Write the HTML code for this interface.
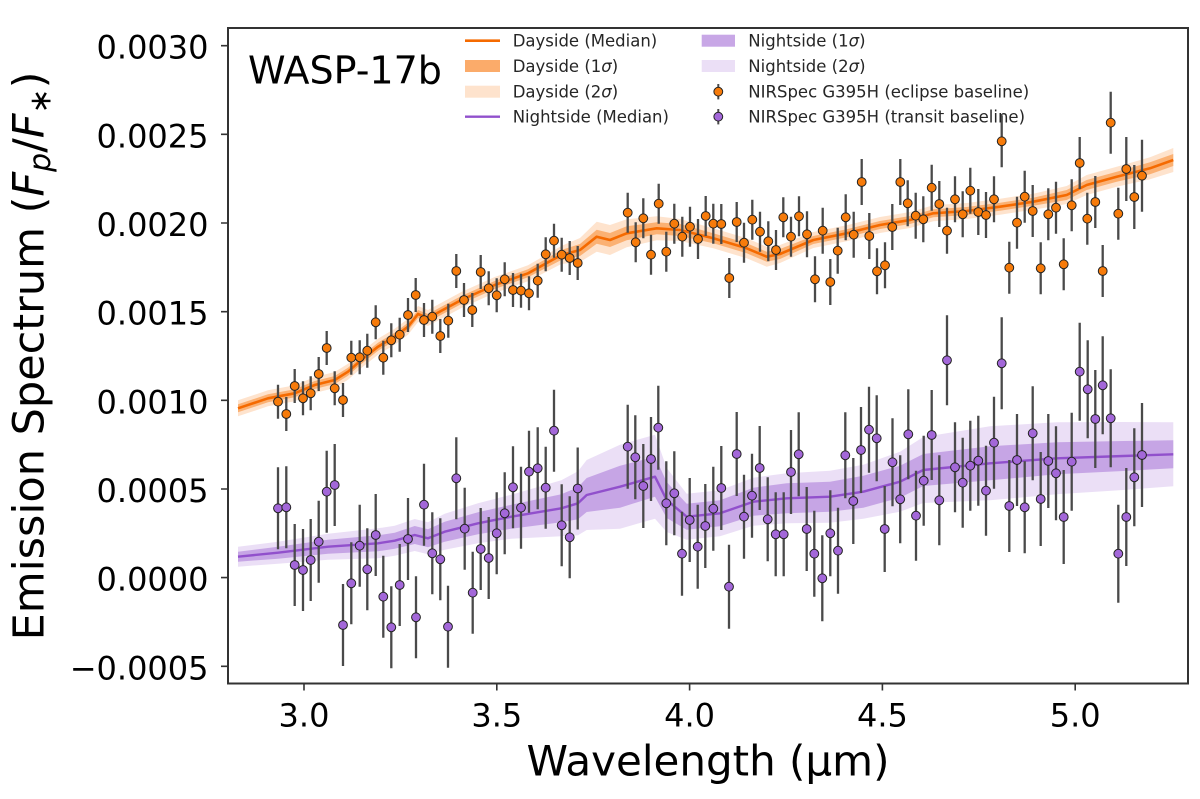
<!DOCTYPE html>
<html><head><meta charset="utf-8"><style>
html,body{margin:0;padding:0;background:#fff;overflow:hidden}
svg{display:block}
</style></head><body>
<svg width="1200" height="799" viewBox="0 0 1200 799" xmlns="http://www.w3.org/2000/svg" font-family="'DejaVu Sans','Liberation Sans',sans-serif">
<rect width="1200" height="799" fill="#fff"/>
<defs><clipPath id="ax"><rect x="228" y="28" width="960" height="656"/></clipPath></defs>
<g clip-path="url(#ax)">
<!-- dayside bands -->
<polygon fill="#f97306" fill-opacity="0.2" points="238,400.3 268,390.3 294.7,385.3 314.7,377 334.7,372 348,363.7 361.3,352 378,338.7 394.7,328.7 408,318.7 418,306 428,310 461.3,292 494.7,277 528,265.3 561.3,246 580,238 596.7,221.7 610,225 626.7,219.3 656.7,216.3 680,219 713.3,228.3 746.7,238.3 766.7,246.7 780,245 813.3,232 846.7,225.3 880,217 910,212 933.3,205.3 966.7,203 1000,198.7 1033.3,193.7 1066.7,186 1086.7,175 1116.7,166.7 1150,157.3 1173.3,148 1173.3,172 1150,179.3 1116.7,186.7 1086.7,195 1066.7,204 1033.3,209.7 1000,214.7 966.7,219 933.3,221.3 910,228 880,233 846.7,241.3 813.3,248 780,263 766.7,266.7 746.7,258.3 713.3,248.3 680,241 656.7,240.3 626.7,247.3 610,255 596.7,251.7 580,262 561.3,264 528,281.3 494.7,293 461.3,308 428,326 418,322 408,334.7 394.7,344.7 378,354.7 361.3,368 348,379.7 334.7,388 314.7,393 294.7,401.3 268,406.3 238,416.3"/>
<polygon fill="#f97306" fill-opacity="0.45" points="238,404.3 268,394.3 294.7,389.3 314.7,381 334.7,376 348,367.7 361.3,356 378,342.7 394.7,332.7 408,322.7 418,310 428,314 461.3,296 494.7,281 528,269.3 561.3,250 580,244 596.7,229.7 610,233 626.7,226.3 656.7,222.3 680,224 713.3,233.3 746.7,243.3 766.7,251.7 780,249 813.3,236 846.7,229.3 880,221 910,216 933.3,209.3 966.7,207 1000,202.7 1033.3,197.7 1066.7,190 1086.7,180 1116.7,171.7 1150,162.3 1173.3,154 1173.3,166 1150,174.3 1116.7,181.7 1086.7,190 1066.7,200 1033.3,205.7 1000,210.7 966.7,215 933.3,217.3 910,224 880,229 846.7,237.3 813.3,244 780,259 766.7,261.7 746.7,253.3 713.3,243.3 680,236 656.7,234.3 626.7,240.3 610,247 596.7,243.7 580,256 561.3,260 528,277.3 494.7,289 461.3,304 428,322 418,318 408,330.7 394.7,340.7 378,350.7 361.3,364 348,375.7 334.7,384 314.7,389 294.7,397.3 268,402.3 238,412.3"/>
<polyline fill="none" stroke="#f56a00" stroke-width="2.6" stroke-linejoin="round" points="238,408.3 268,398.3 294.7,393.3 314.7,385 334.7,380 348,371.7 361.3,360 378,346.7 394.7,336.7 408,326.7 418,314 428,318 461.3,300 494.7,285 528,273.3 561.3,255 580,250 596.7,236.7 610,240 626.7,233.3 656.7,228.3 680,230 713.3,238.3 746.7,248.3 766.7,256.7 780,254 813.3,240 846.7,233.3 880,225 910,220 933.3,213.3 966.7,211 1000,206.7 1033.3,201.7 1066.7,195 1086.7,185 1116.7,176.7 1150,168.3 1173.3,160"/>
<!-- nightside bands -->
<polygon fill="#9a5fd1" fill-opacity="0.2" points="238,546.7 278,541.7 328,533.7 378,528.3 394.7,525.7 414.7,519 428,522.3 444.7,513.7 478,503.3 511.3,494.7 561.3,480.3 578,471.3 586.7,460 620,444.7 655,434.7 666.7,468 686.7,493.7 720,490.3 753.3,477.7 786.7,473.3 830,470.7 863.3,464.7 900,451.7 923.3,437 990,426.3 1056.7,422.3 1123.3,422 1173.3,422.3 1173.3,486.3 1123.3,490 1056.7,494.3 990,500.3 923.3,503 900,511.7 863.3,518.7 830,522.7 786.7,523.3 753.3,525.7 720,536.3 686.7,539.7 666.7,532 655,518.7 620,528.7 586.7,530 578,535.3 561.3,536.3 511.3,538.7 478,543.3 444.7,549.7 428,554.3 414.7,551 394.7,555.7 378,558.3 328,559.7 278,563.7 238,566.7"/>
<polygon fill="#9a5fd1" fill-opacity="0.45" points="238,551.7 278,546.7 328,539.7 378,535.3 394.7,532.7 414.7,526 428,529.3 444.7,521.7 478,512.3 511.3,504.7 561.3,494.3 578,487.3 586.7,478 620,465.7 655,456.7 666.7,482 686.7,503.7 720,500.3 753.3,487.7 786.7,483.3 830,481.7 863.3,475.7 900,465.7 923.3,454 990,446.3 1056.7,442.3 1123.3,441 1173.3,440.3 1173.3,468.3 1123.3,471 1056.7,474.3 990,480.3 923.3,486 900,497.7 863.3,507.7 830,511.7 786.7,513.3 753.3,515.7 720,526.3 686.7,529.7 666.7,518 655,496.7 620,507.7 586.7,512 578,519.3 561.3,522.3 511.3,528.7 478,534.3 444.7,541.7 428,547.3 414.7,544 394.7,548.7 378,551.3 328,553.7 278,558.7 238,561.7"/>
<polyline fill="none" stroke="#9150cc" stroke-width="2.4" stroke-linejoin="round" points="238,556.7 278,552.7 328,546.7 378,543.3 394.7,540.7 414.7,535 428,538.3 444.7,531.7 478,523.3 511.3,516.7 561.3,508.3 578,503.3 586.7,495 620,486.7 655,476.7 666.7,500 686.7,516.7 720,513.3 753.3,501.7 786.7,498.3 830,496.7 863.3,491.7 900,481.7 923.3,470 990,463.3 1056.7,458.3 1123.3,456 1173.3,454.3"/>

<!-- nightside error bars -->
<path fill="none" stroke="#4a4a4a" stroke-width="2.3" d="M278 467.3V549.3M286.3 466.3V548.3M294.7 524V606M303 529V611M310.7 519V601M318.7 500.7V582.7M326.7 450.7V532.7M334.7 444V526M343 584V666M351.3 542.3V624.3M359.7 504.7V586.7M367.3 528.3V610.3M375.7 494V576M383.3 555.7V637.7M391.3 586.3V668.3M399.7 544V626M408 498V580M416 576.3V658.3M424 463.7V545.7M432.3 512.3V594.3M440.3 518.3V600.3M448 585.7V667.7M456.3 437.3V519.3M464.7 487.7V569.7M472.7 551.7V633.7M480.7 508V590M488.7 517V599M496.7 492.3V574.3M504.7 472.3V554.3M513 446.3V528.3M521 466.7V548.7M529 430.7V512.7M537.7 427.3V509.3M545.7 446.7V528.7M554 389.7V471.7M561.7 484.3V566.3M569.7 496.3V578.3M577.7 447.5V529.5M627.7 404.7V488.7M635.3 415.3V499.3M643.3 444V528M651 417V501M658.3 385.7V469.7M666.3 461.3V545.3M674.3 451.3V535.3M682 511.7V595.7M689.7 478V562M697.7 504.7V588.7M705.3 484V568M713.3 466.7V550.7M721.3 446V530M729 544.7V628.7M736.7 412V496M744 474.7V558.7M752 453.7V537.7M759.7 426V510M767.7 477.3V561.3M775.7 492.3V576.3M783.7 492.3V576.3M791 430V514M798.7 412.3V496.3M806.7 487V571M814.3 510.7V596.7M822.3 535.3V621.3M830.3 490.3V576.3M838 507.7V593.7M845.3 412.3V498.3M853.3 458V544M861 407V493M869 386.7V472.7M876.7 395.3V481.3M884.7 486V572M892.5 418.3V506.3M900.2 455.3V543.3M908.3 389.3V479.3M916 470.7V560.7M923.7 435.7V525.7M931.7 390V480M939.3 455.3V545.3M947 315.3V405.3M955 422.3V512.3M962.7 437.7V527.7M970.3 420.7V510.7M978.3 415.7V505.7M986 445.7V535.7M994 396.7V488.7M1001.7 317.3V409.3M1009.3 460V552M1017 414V506M1024.7 461.3V553.3M1032.7 386.3V480.3M1040.7 452V546M1048.3 414V508M1056 426.3V520.3M1063.7 470V564M1071.7 412.7V510.7M1079.7 322.7V420.7M1087.7 340.3V438.3M1095.3 370V468M1102.7 336.3V434.3M1110.7 369.3V467.3M1118.3 504.7V602.7M1126.3 468V566M1134.3 428.3V526.3M1142 403V507"/>
<!-- dayside error bars -->
<path fill="none" stroke="#4a4a4a" stroke-width="2.3" d="M278 384.7V418.7M286.3 397V431M294.7 369V403M303 381.3V415.3M310.7 376.3V410.3M318.7 357V391M326.7 331V365M334.7 371.3V405.3M343 383V417M351.3 340.7V374.7M359.7 340.3V374.3M367.3 333.7V367.7M375.7 305.3V339.3M383.3 340.7V374.7M391.3 323.3V357.3M399.7 317.7V351.7M408 298V332M415.7 278V312M424 303V337M432.3 299.7V333.7M440.3 319V353M448.3 303.7V337.7M456.3 254V288M464 283V317M472.3 293V327M480.7 255V289M488.7 271.3V305.3M496.7 278.3V312.3M504.7 262.3V296.3M513 273V307M521 273.7V307.7M529 276.3V310.3M537.7 263.7V297.7M545.7 237.3V271.3M554 223.7V257.7M561.7 237.7V271.7M569.7 241V275M577.7 246V280M627.7 192.7V232.7M635.7 222.3V262.3M643.3 198.3V238.3M651 234.7V274.7M658.7 183.7V223.7M666.3 231.7V271.7M674.3 203.7V243.7M682.3 216.7V256.7M690 206.7V246.7M698 219V259M705.7 196V236M713.3 203.7V243.7M721.3 204V244M729.3 258V298M736.7 202V242M744 222.7V262.7M752.3 199.7V239.7M760 211.7V251.7M768.3 221.3V261.3M776 230V270M783.3 197.3V237.3M791 216.7V256.7M799 196.3V236.3M807 211.3V257.3M815 256.3V302.3M822.7 207.7V253.7M830.3 259V305M837.7 227.7V273.7M845.7 194.3V240.3M853.7 211.7V257.7M861.7 159V205M869.3 213V259M877 248.3V294.3M885 242.3V288.3M892.3 204V250M900.3 159V205M907.7 180.3V226.3M915.7 192.7V238.7M923.3 196.3V242.3M931.7 164.7V210.7M939.3 181V227M947 207.7V253.7M955 176.3V222.3M962.7 191.3V237.3M970.3 167.7V213.7M978.3 189V235M986 192V238M994 176.3V222.3M1001.7 115.3V167.3M1009.3 241.7V293.7M1017 196.7V248.7M1024.7 170.7V222.7M1032.7 185V237M1040.7 242.3V294.3M1048.3 188.3V240.3M1056 181.7V233.7M1063.7 238.3V290.3M1071.7 179.3V231.3M1079.7 137V189M1087.3 192.7V244.7M1095.3 176V228M1102.7 245V297M1110.7 91.7V153.7M1118.3 187.7V239.7M1126.3 137V201M1134.3 165V229M1142 139.7V211.7"/>

<!-- nightside markers -->
<g fill="#a367d9" stroke="#222" stroke-width="1">
<circle cx="278" cy="508.3" r="4.4"/><circle cx="286.3" cy="507.3" r="4.4"/><circle cx="294.7" cy="565" r="4.4"/><circle cx="303" cy="570" r="4.4"/><circle cx="310.7" cy="560" r="4.4"/><circle cx="318.7" cy="541.7" r="4.4"/><circle cx="326.7" cy="491.7" r="4.4"/><circle cx="334.7" cy="485" r="4.4"/><circle cx="343" cy="625" r="4.4"/><circle cx="351.3" cy="583.3" r="4.4"/><circle cx="359.7" cy="545.7" r="4.4"/><circle cx="367.3" cy="569.3" r="4.4"/><circle cx="375.7" cy="535" r="4.4"/><circle cx="383.3" cy="596.7" r="4.4"/><circle cx="391.3" cy="627.3" r="4.4"/><circle cx="399.7" cy="585" r="4.4"/><circle cx="408" cy="539" r="4.4"/><circle cx="416" cy="617.3" r="4.4"/><circle cx="424" cy="504.7" r="4.4"/><circle cx="432.3" cy="553.3" r="4.4"/><circle cx="440.3" cy="559.3" r="4.4"/><circle cx="448" cy="626.7" r="4.4"/><circle cx="456.3" cy="478.3" r="4.4"/><circle cx="464.7" cy="528.7" r="4.4"/><circle cx="472.7" cy="592.7" r="4.4"/><circle cx="480.7" cy="549" r="4.4"/><circle cx="488.7" cy="558" r="4.4"/><circle cx="496.7" cy="533.3" r="4.4"/><circle cx="504.7" cy="513.3" r="4.4"/><circle cx="513" cy="487.3" r="4.4"/><circle cx="521" cy="507.7" r="4.4"/><circle cx="529" cy="471.7" r="4.4"/><circle cx="537.7" cy="468.3" r="4.4"/><circle cx="545.7" cy="487.7" r="4.4"/><circle cx="554" cy="430.7" r="4.4"/><circle cx="561.7" cy="525.3" r="4.4"/><circle cx="569.7" cy="537.3" r="4.4"/><circle cx="577.7" cy="488.5" r="4.4"/>
<circle cx="627.7" cy="446.7" r="4.4"/><circle cx="635.3" cy="457.3" r="4.4"/><circle cx="643.3" cy="486" r="4.4"/><circle cx="651" cy="459" r="4.4"/><circle cx="658.3" cy="427.7" r="4.4"/><circle cx="666.3" cy="503.3" r="4.4"/><circle cx="674.3" cy="493.3" r="4.4"/><circle cx="682" cy="553.7" r="4.4"/><circle cx="689.7" cy="520" r="4.4"/><circle cx="697.7" cy="546.7" r="4.4"/><circle cx="705.3" cy="526" r="4.4"/><circle cx="713.3" cy="508.7" r="4.4"/><circle cx="721.3" cy="488" r="4.4"/><circle cx="729" cy="586.7" r="4.4"/><circle cx="736.7" cy="454" r="4.4"/><circle cx="744" cy="516.7" r="4.4"/><circle cx="752" cy="495.7" r="4.4"/><circle cx="759.7" cy="468" r="4.4"/><circle cx="767.7" cy="519.3" r="4.4"/><circle cx="775.7" cy="534.3" r="4.4"/><circle cx="783.7" cy="534.3" r="4.4"/><circle cx="791" cy="472" r="4.4"/><circle cx="798.7" cy="454.3" r="4.4"/><circle cx="806.7" cy="529" r="4.4"/><circle cx="814.3" cy="553.7" r="4.4"/><circle cx="822.3" cy="578.3" r="4.4"/><circle cx="830.3" cy="533.3" r="4.4"/><circle cx="838" cy="550.7" r="4.4"/><circle cx="845.3" cy="455.3" r="4.4"/><circle cx="853.3" cy="501" r="4.4"/><circle cx="861" cy="450" r="4.4"/><circle cx="869" cy="429.7" r="4.4"/><circle cx="876.7" cy="438.3" r="4.4"/><circle cx="884.7" cy="529" r="4.4"/><circle cx="892.5" cy="462.3" r="4.4"/><circle cx="900.2" cy="499.3" r="4.4"/>
<circle cx="908.3" cy="434.3" r="4.4"/><circle cx="916" cy="515.7" r="4.4"/><circle cx="923.7" cy="480.7" r="4.4"/><circle cx="931.7" cy="435" r="4.4"/><circle cx="939.3" cy="500.3" r="4.4"/><circle cx="947" cy="360.3" r="4.4"/><circle cx="955" cy="467.3" r="4.4"/><circle cx="962.7" cy="482.7" r="4.4"/><circle cx="970.3" cy="465.7" r="4.4"/><circle cx="978.3" cy="460.7" r="4.4"/><circle cx="986" cy="490.7" r="4.4"/><circle cx="994" cy="442.7" r="4.4"/><circle cx="1001.7" cy="363.3" r="4.4"/><circle cx="1009.3" cy="506" r="4.4"/><circle cx="1017" cy="460" r="4.4"/><circle cx="1024.7" cy="507.3" r="4.4"/><circle cx="1032.7" cy="433.3" r="4.4"/><circle cx="1040.7" cy="499" r="4.4"/><circle cx="1048.3" cy="461" r="4.4"/><circle cx="1056" cy="473.3" r="4.4"/><circle cx="1063.7" cy="517" r="4.4"/><circle cx="1071.7" cy="461.7" r="4.4"/><circle cx="1079.7" cy="371.7" r="4.4"/><circle cx="1087.7" cy="389.3" r="4.4"/><circle cx="1095.3" cy="419" r="4.4"/><circle cx="1102.7" cy="385.3" r="4.4"/><circle cx="1110.7" cy="418.3" r="4.4"/><circle cx="1118.3" cy="553.7" r="4.4"/><circle cx="1126.3" cy="517" r="4.4"/><circle cx="1134.3" cy="477.3" r="4.4"/><circle cx="1142" cy="455" r="4.4"/>
</g>
<!-- dayside markers -->
<g fill="#f77b0a" stroke="#222" stroke-width="1">
<circle cx="278" cy="401.7" r="4.4"/><circle cx="286.3" cy="414" r="4.4"/><circle cx="294.7" cy="386" r="4.4"/><circle cx="303" cy="398.3" r="4.4"/><circle cx="310.7" cy="393.3" r="4.4"/><circle cx="318.7" cy="374" r="4.4"/><circle cx="326.7" cy="348" r="4.4"/><circle cx="334.7" cy="388.3" r="4.4"/><circle cx="343" cy="400" r="4.4"/><circle cx="351.3" cy="357.7" r="4.4"/><circle cx="359.7" cy="357.3" r="4.4"/><circle cx="367.3" cy="350.7" r="4.4"/><circle cx="375.7" cy="322.3" r="4.4"/><circle cx="383.3" cy="357.7" r="4.4"/><circle cx="391.3" cy="340.3" r="4.4"/><circle cx="399.7" cy="334.7" r="4.4"/><circle cx="408" cy="315" r="4.4"/><circle cx="415.7" cy="295" r="4.4"/><circle cx="424" cy="320" r="4.4"/><circle cx="432.3" cy="316.7" r="4.4"/><circle cx="440.3" cy="336" r="4.4"/><circle cx="448.3" cy="320.7" r="4.4"/><circle cx="456.3" cy="271" r="4.4"/><circle cx="464" cy="300" r="4.4"/><circle cx="472.3" cy="310" r="4.4"/><circle cx="480.7" cy="272" r="4.4"/><circle cx="488.7" cy="288.3" r="4.4"/><circle cx="496.7" cy="295.3" r="4.4"/><circle cx="504.7" cy="279.3" r="4.4"/><circle cx="513" cy="290" r="4.4"/><circle cx="521" cy="290.7" r="4.4"/><circle cx="529" cy="293.3" r="4.4"/><circle cx="537.7" cy="280.7" r="4.4"/><circle cx="545.7" cy="254.3" r="4.4"/><circle cx="554" cy="240.7" r="4.4"/><circle cx="561.7" cy="254.7" r="4.4"/><circle cx="569.7" cy="258" r="4.4"/><circle cx="577.7" cy="263" r="4.4"/>
<circle cx="627.7" cy="212.7" r="4.4"/><circle cx="635.7" cy="242.3" r="4.4"/><circle cx="643.3" cy="218.3" r="4.4"/><circle cx="651" cy="254.7" r="4.4"/><circle cx="658.7" cy="203.7" r="4.4"/><circle cx="666.3" cy="251.7" r="4.4"/><circle cx="674.3" cy="223.7" r="4.4"/><circle cx="682.3" cy="236.7" r="4.4"/><circle cx="690" cy="226.7" r="4.4"/><circle cx="698" cy="239" r="4.4"/><circle cx="705.7" cy="216" r="4.4"/><circle cx="713.3" cy="223.7" r="4.4"/><circle cx="721.3" cy="224" r="4.4"/><circle cx="729.3" cy="278" r="4.4"/><circle cx="736.7" cy="222" r="4.4"/><circle cx="744" cy="242.7" r="4.4"/><circle cx="752.3" cy="219.7" r="4.4"/><circle cx="760" cy="231.7" r="4.4"/><circle cx="768.3" cy="241.3" r="4.4"/><circle cx="776" cy="250" r="4.4"/><circle cx="783.3" cy="217.3" r="4.4"/><circle cx="791" cy="236.7" r="4.4"/><circle cx="799" cy="216.3" r="4.4"/><circle cx="807" cy="234.3" r="4.4"/><circle cx="815" cy="279.3" r="4.4"/><circle cx="822.7" cy="230.7" r="4.4"/><circle cx="830.3" cy="282" r="4.4"/><circle cx="837.7" cy="250.7" r="4.4"/><circle cx="845.7" cy="217.3" r="4.4"/><circle cx="853.7" cy="234.7" r="4.4"/><circle cx="861.7" cy="182" r="4.4"/><circle cx="869.3" cy="236" r="4.4"/><circle cx="877" cy="271.3" r="4.4"/><circle cx="885" cy="265.3" r="4.4"/><circle cx="892.3" cy="227" r="4.4"/><circle cx="900.3" cy="182" r="4.4"/>
<circle cx="907.7" cy="203.3" r="4.4"/><circle cx="915.7" cy="215.7" r="4.4"/><circle cx="923.3" cy="219.3" r="4.4"/><circle cx="931.7" cy="187.7" r="4.4"/><circle cx="939.3" cy="204" r="4.4"/><circle cx="947" cy="230.7" r="4.4"/><circle cx="955" cy="199.3" r="4.4"/><circle cx="962.7" cy="214.3" r="4.4"/><circle cx="970.3" cy="190.7" r="4.4"/><circle cx="978.3" cy="212" r="4.4"/><circle cx="986" cy="215" r="4.4"/><circle cx="994" cy="199.3" r="4.4"/><circle cx="1001.7" cy="141.3" r="4.4"/><circle cx="1009.3" cy="267.7" r="4.4"/><circle cx="1017" cy="222.7" r="4.4"/><circle cx="1024.7" cy="196.7" r="4.4"/><circle cx="1032.7" cy="211" r="4.4"/><circle cx="1040.7" cy="268.3" r="4.4"/><circle cx="1048.3" cy="214.3" r="4.4"/><circle cx="1056" cy="207.7" r="4.4"/><circle cx="1063.7" cy="264.3" r="4.4"/><circle cx="1071.7" cy="205.3" r="4.4"/><circle cx="1079.7" cy="163" r="4.4"/><circle cx="1087.3" cy="218.7" r="4.4"/><circle cx="1095.3" cy="202" r="4.4"/><circle cx="1102.7" cy="271" r="4.4"/><circle cx="1110.7" cy="122.7" r="4.4"/><circle cx="1118.3" cy="213.7" r="4.4"/><circle cx="1126.3" cy="169" r="4.4"/><circle cx="1134.3" cy="197" r="4.4"/><circle cx="1142" cy="175.7" r="4.4"/>
</g>
</g>

<!-- axes frame -->
<rect x="228" y="28" width="960" height="655.5" fill="none" stroke="#333" stroke-width="2"/>
<!-- y ticks -->
<path stroke="#333" stroke-width="1.6" d="M221 45.7H228M221 134.3H228M221 223H228M221 311.7H228M221 400.3H228M221 489H228M221 577.6H228M221 666.3H228"/>
<g font-size="32" fill="#000" text-anchor="end">
<text x="208.5" y="58.7">0.0030</text>
<text x="208.5" y="147.3">0.0025</text>
<text x="208.5" y="236">0.0020</text>
<text x="208.5" y="324.7">0.0015</text>
<text x="208.5" y="413.3">0.0010</text>
<text x="208.5" y="502">0.0005</text>
<text x="208.5" y="590.6">0.0000</text>
<text x="208.5" y="679.3">−0.0005</text>
</g>
<!-- x ticks -->
<path stroke="#333" stroke-width="1.6" d="M304 683.5V690.5M496.8 683.5V690.5M689.6 683.5V690.5M882.4 683.5V690.5M1075.2 683.5V690.5"/>
<g font-size="32" fill="#000" text-anchor="middle">
<text x="304" y="726.5">3.0</text>
<text x="496.8" y="726.5">3.5</text>
<text x="689.6" y="726.5">4.0</text>
<text x="882.4" y="726.5">4.5</text>
<text x="1075.2" y="726.5">5.0</text>
</g>
<!-- axis labels -->
<text x="708" y="775.5" font-size="42" text-anchor="middle" fill="#000">Wavelength (μm)</text>
<text transform="translate(43.5,356) rotate(-90)" font-size="43" text-anchor="middle" fill="#000">Emission Spectrum (<tspan font-style="italic">F</tspan><tspan font-style="italic" font-size="30" dy="7">p</tspan><tspan dy="-7">/</tspan><tspan font-style="italic">F</tspan><tspan font-size="30" dy="7">∗</tspan><tspan dy="-7">)</tspan></text>
<!-- title -->
<text x="248" y="83.5" font-size="38" fill="#000">WASP-17b</text>

<!-- legend -->
<g font-size="16.5" fill="#262626">
<line x1="465" y1="40.7" x2="500" y2="40.7" stroke="#f56a00" stroke-width="2.6"/>
<rect x="465" y="60" width="35" height="12" fill="#f97306" fill-opacity="0.6"/>
<rect x="465" y="85.7" width="35" height="12" fill="#f97306" fill-opacity="0.2"/>
<line x1="465" y1="116.7" x2="500" y2="116.7" stroke="#9150cc" stroke-width="2.4"/>
<text x="512.7" y="46.7">Dayside (Median)</text>
<text x="512.7" y="72">Dayside (1<tspan font-style="italic">σ</tspan>)</text>
<text x="512.7" y="97.7">Dayside (2<tspan font-style="italic">σ</tspan>)</text>
<text x="512.7" y="122.7">Nightside (Median)</text>
<rect x="701.7" y="34.7" width="33.3" height="12" fill="#9a5fd1" fill-opacity="0.55"/>
<rect x="701.7" y="60" width="33.3" height="12" fill="#9a5fd1" fill-opacity="0.2"/>
<line x1="718.3" y1="84" x2="718.3" y2="99.4" stroke="#4a4a4a" stroke-width="2"/>
<circle cx="718.3" cy="91.7" r="4.4" fill="#f77b0a" stroke="#222" stroke-width="1"/>
<line x1="718.3" y1="109" x2="718.3" y2="124.4" stroke="#4a4a4a" stroke-width="2"/>
<circle cx="718.3" cy="116.7" r="4.4" fill="#a367d9" stroke="#222" stroke-width="1"/>
<text x="748.3" y="46.7">Nightside (1<tspan font-style="italic">σ</tspan>)</text>
<text x="748.3" y="72">Nightside (2<tspan font-style="italic">σ</tspan>)</text>
<text x="748.3" y="97.7">NIRSpec G395H (eclipse baseline)</text>
<text x="748.3" y="122.7">NIRSpec G395H (transit baseline)</text>
</g>
</svg>
</body></html>
